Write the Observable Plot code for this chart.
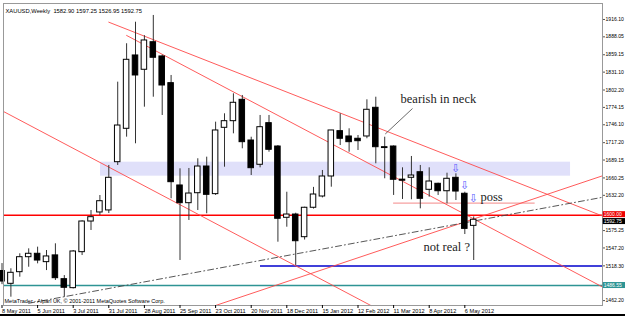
<!DOCTYPE html>
<html><head><meta charset="utf-8">
<script src="https://cdn.jsdelivr.net/npm/d3@7"></script>
<script src="https://cdn.jsdelivr.net/npm/@observablehq/plot@0.6"></script>
<style>
html,body{margin:0;padding:0;background:#fff}
#wrap{position:relative;width:625px;height:316px;background:#000;overflow:hidden}
#wrap svg{display:block;overflow:hidden;background:#fff}
</style></head><body><div id="wrap"></div>
<script>
// Weekly XAUUSD candles, index 0 = week of 8 May 2011
const opens  = [1510,1489.3,1508.1,1532.3,1537.8,1524.3,1535.2,1496.8,1482.3,1540.4,1589.9,1604.5,1607.8,1685.7,1739.6,1858.0,1834.9,1879.4,1856.4,1813.3,1648.1,1619.5,1635.6,1678.7,1634.1,1741.2,1751.9,1786.4,1720.7,1681.5,1748.7,1711,1595.9,1601.2,1564.6,1612.1,1630.3,1662.6,1735.8,1727.2,1723.5,1727.2,1773.5,1709.9,1711,1657.5,1660.5,1669.5,1641.1,1650.8,1638.8,1660.5,1634.7,1582.90];
const highs  = [1522,1513.6,1537.8,1545.8,1548.5,1543.1,1553.9,1502.6,1543,1590.9,1607.7,1631.9,1680.4,1814.9,1876.9,1911.7,1890,1922.6,1858.5,1825.7,1675,1675.5,1691.2,1693.8,1750.3,1763.8,1796.1,1793.4,1726,1761.1,1761.1,1712.6,1637.2,1603.3,1613,1645,1672.3,1737,1763.8,1739.6,1728.8,1786.4,1790.6,1726,1712,1676.6,1694.9,1680.4,1676.6,1651.8,1667.9,1666.9,1637.2,1597.25];
const lows   = [1488,1467.7,1500.0,1516.1,1521.6,1510.7,1494.7,1467.7,1481.0,1535.0,1575.4,1599.6,1602.8,1680.4,1726.1,1715.4,1774.5,1790.6,1761.1,1626.6,1527,1591.6,1607.7,1602.4,1632,1677.6,1731.5,1707.3,1664.2,1676.6,1701.8,1556.5,1580.7,1518.9,1560,1610,1628,1645.3,1712.6,1701.8,1704.6,1723.5,1683.1,1658.9,1632,1625.5,1625,1610.4,1629.2,1632,1618.5,1623.8,1568.9,1526.95];
const closes = [1493,1507.1,1532.3,1537.8,1526.9,1533.5,1498.4,1482.9,1541.5,1589.9,1596.9,1622.7,1660.5,1744.9,1851.0,1825.7,1882.2,1854.3,1809.5,1653.4,1619.5,1635.1,1678.7,1633.0,1736.9,1751.9,1781.6,1718.0,1676,1742.2,1705.7,1594.3,1601.2,1558.1,1612.1,1633.5,1662.6,1736.9,1723.5,1718,1719.6,1770.3,1709.9,1708.5,1657.3,1655.8,1664.2,1626.6,1654.5,1638.8,1658.9,1638.3,1578,1592.75];

const tickIdx = [0,4,8,12,16,20,24,28,32,36,40,44,48,52];
const tickLabels = ["8 May 2011","5 Jun 2011","3 Jul 2011","31 Jul 2011","28 Aug 2011","25 Sep 2011","23 Oct 2011","20 Nov 2011","18 Dec 2011","15 Jan 2012","12 Feb 2012","11 Mar 2012","8 Apr 2012","6 May 2012"];
const yTicks = [1916.10,1888.05,1859.15,1831.10,1802.20,1774.15,1746.10,1717.20,1689.15,1660.25,1632.20,1575.25,1547.20,1518.30,1462.20];

// horizontal levels
const redLevel = 1600.00, tealLevel = 1486.55, blueLevel = 1518.0, pinkLevel = 1619.5, lastPrice = 1592.75;
const blueStart = 29.04, pinkStart = 44.0, pinkEnd = 59.9;
// supply/demand band [x1, x2, low, high]
const band = [11.07, 63.88, 1663.1, 1685.7];
// trend lines, anchors as [week index, price]
const trendA = [[12.0,1911.7],[67.47,1598.8]];
const trendB = [[14.0,1890.3],[67.47,1484.2]];
const trendC = [[0.17,1767.5],[41.44,1454.3]];
const trendD = [[24.0,1454.3],[67.47,1663.7]];
const dashE  = [[3.0,1457.9],[67.47,1629.0]];
const pointer = [[43.09,1731.6],[46.09,1771.9]];
const arrows = [[50.96,1675.5],[51.97,1648.0],[52.97,1627.9]];
const notes = [
  {x:44.78, y:1787, t:"bearish in neck"},
  {x:53.76, y:1628.7, t:"poss"},
  {x:47.36, y:1548, t:"not real ?"}
];
const title = "XAUUSD,Weekly  1582.90 1597.25 1526.95 1592.75";
const copyright = "MetaTrader - Alpari UK, \u00a9 2001-2011 MetaQuotes Software Corp.";

const candles = opens.map((o,i)=>({i, o, h:highs[i], l:lows[i], c:closes[i], up: closes[i] >= o}));
const hw = 0.31;
const pxPrice = 1/0.6193;

const boxes = [
  {p:lastPrice, fill:"#000", t:lastPrice.toFixed(2), off:-1.8},
  {p:redLevel, fill:"#e00", t:redLevel.toFixed(2), off:0.6},
  {p:tealLevel, fill:"#2e9494", t:tealLevel.toFixed(2), off:0}
];

const font = "'Liberation Sans', Arial, sans-serif";
const plot = Plot.plot({
  width: 625, height: 314,
  marginLeft: 3, marginRight: 23, marginTop: 3, marginBottom: 9,
  style: {fontFamily: font, fontSize: "5.1px", background: "#fff", color: "#000"},
  x: {type: "linear", domain: [0.1685, 67.47]},
  y: {type: "linear", domain: [1454.3, 1941.9]},
  marks: [
    Plot.rect([band], {x1: d=>d[0], x2: d=>d[1], y1: d=>d[2], y2: d=>d[3], fill: "#e0e0fa"}),
    Plot.ruleY([redLevel], {stroke: "#f00", strokeWidth: 1.6}),
    Plot.ruleY([tealLevel], {stroke: "#2e9494", strokeWidth: 1.5}),
    Plot.ruleY([blueLevel], {x1: blueStart, x2: 67.47, stroke: "#0000cc", strokeWidth: 1.4}),
    Plot.ruleY([pinkLevel], {x1: pinkStart, x2: pinkEnd, stroke: "#f6a0a0", strokeWidth: 1.2}),
    Plot.line(trendA, {stroke: "#ff4848", strokeWidth: 0.9}),
    Plot.line(trendB, {stroke: "#ff4848", strokeWidth: 0.9}),
    Plot.line(trendC, {stroke: "#ff4848", strokeWidth: 0.9}),
    Plot.line(trendD, {stroke: "#ff4848", strokeWidth: 0.9}),
    Plot.line(dashE, {stroke: "#444", strokeWidth: 0.9, strokeDasharray: "6,3,1,3"}),
    Plot.line(pointer, {stroke: "#444", strokeWidth: 0.8}),
    Plot.ruleX(candles, {x: "i", y1: "l", y2: "h", stroke: "#333", strokeWidth: 1}),
    Plot.rect(candles, {x1: d=>d.i-hw, x2: d=>d.i+hw, y1: "o", y2: d => Math.abs(d.c-d.o) < 0.8 ? d.o + 0.8 : d.c,
      fill: d => d.up ? "#fff" : "#000", stroke: "#000", strokeWidth: 1}),
    Plot.text(notes, {x: "x", y: "y", text: "t", textAnchor: "start", fontFamily: "'Liberation Serif', 'Times New Roman', serif", fontSize: 12.5, fill: "#222"}),
    Plot.text(arrows, {x: d=>d[0], y: d=>d[1], text: () => "\u21e9", fontFamily: "'DejaVu Sans'", fontSize: 11, fill: "#5a5aff"}),
    Plot.frame({stroke: "#999"}),
    Plot.axisY({anchor: "right", ticks: yTicks, tickFormat: d => d.toFixed(2), tickSize: 2, tickPadding: 1, label: null, stroke: "#555"}),
    Plot.axisX({anchor: "bottom", ticks: tickIdx, tickFormat: d => tickLabels[tickIdx.indexOf(d)], textAnchor: "start", tickSize: 3, tickPadding: 1, fontSize: 5.6, label: null}),
    Plot.rect(boxes, {x1: 67.55, x2: 70.2, y1: d => d.p + d.off*pxPrice - 3*pxPrice, y2: d => d.p + d.off*pxPrice + 3*pxPrice, fill: "fill"}),
    Plot.text(boxes, {x: 67.6, y: d => d.p + d.off*pxPrice, text: "t", textAnchor: "start", fill: "#fff", fontSize: 5}),
    Plot.text([title], {frameAnchor: "top-left", dx: 2, dy: 5, textAnchor: "start", fontSize: 5.8}),
    Plot.text([copyright], {frameAnchor: "bottom-left", dx: 1, dy: -3, textAnchor: "start", fontSize: 5.5})
  ]
});
document.getElementById("wrap").appendChild(plot);
</script></body></html>
